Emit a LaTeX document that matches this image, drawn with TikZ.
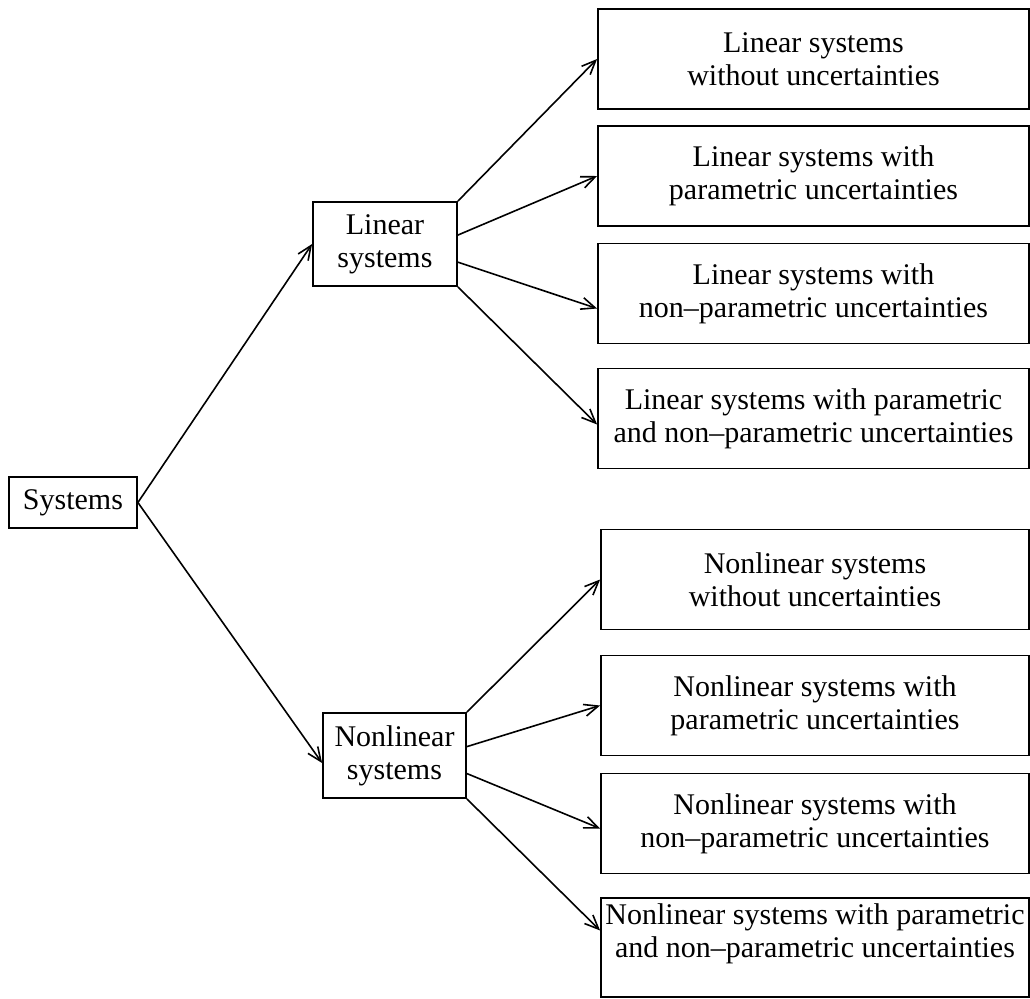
\documentclass[tikz,border=0pt]{standalone}
\usepackage{fontspec}
\setmainfont{Liberation Serif}
\usetikzlibrary{arrows.meta}

\tikzset{
    sysbox/.style={draw, line width=0.9pt, align=center, inner sep=0pt,
        font=\fontsize{15}{16.5}\selectfont},
    leafbox/.style={sysbox, minimum height=50pt},
    branch/.style={->, line width=0.8pt},
}

\begin{document}
\begin{tikzpicture}[x=0.5pt, y=-0.5pt, >={Straight Barb[length=7pt, width=6pt]}]
    \useasboundingbox (0,0) rectangle (1030,998);

    % Gốc và hai nhánh chính
    \node[sysbox, minimum width=64pt, minimum height=25.5pt] (sys) at (73,502.5) {Systems};
    \node[sysbox, minimum width=72pt, minimum height=42pt] (lin) at (385,244) {Linear\\systems};
    \node[sysbox, minimum width=71.5pt, minimum height=42.5pt] (nonlin) at (394.5,755.5) {Nonlinear\\systems};

    % Các hộp của hệ tuyến tính
    \node[leafbox, minimum width=215.5pt] (l1) at (813.5,59) {Linear systems\\without uncertainties};
    \node[leafbox, minimum width=215.5pt] (l2) at (813.5,176) {Linear systems with\\parametric uncertainties};
    \node[leafbox, minimum width=215.5pt] (l3) at (813.5,293.5) {Linear systems with\\non--parametric uncertainties};
    \node[leafbox, minimum width=215.5pt] (l4) at (813.5,418.5) {Linear systems with parametric\\and non--parametric uncertainties};

    % Các hộp của hệ phi tuyến
    \node[leafbox, minimum width=214pt] (n1) at (815,579.5) {Nonlinear systems\\without uncertainties};
    \node[leafbox, minimum width=214pt] (n2) at (815,705.5) {Nonlinear systems with\\parametric uncertainties};
    \node[leafbox, minimum width=214pt] (n3) at (815,823.5) {Nonlinear systems with\\non--parametric uncertainties};
    \node[leafbox, minimum width=214pt, minimum height=49.5pt] (n4) at (815,947.5) {Nonlinear systems with parametric\\and non--parametric uncertainties\\\mbox{}};

    \draw[branch] (sys.east) -- (lin.west);
    \draw[branch] (sys.east) -- ([yshift=-3.75pt]nonlin.west);

    \draw[branch] (lin.north east) -- (l1.west);
    \draw[branch] (lin.7) -- (l2.west);
    \draw[branch] (lin.-14) -- ([yshift=-7.5pt]l3.west);
    \draw[branch] (lin.south east) -- ([yshift=-3pt]l4.west);

    \draw[branch] (nonlin.north east) -- (n1.west);
    \draw[branch] (nonlin.7) -- (n2.west);
    \draw[branch] (nonlin.-14) -- ([yshift=-2.5pt]n3.west);
    \draw[branch] (nonlin.south east) -- ([yshift=8.5pt]n4.west);
\end{tikzpicture}
\end{document}
